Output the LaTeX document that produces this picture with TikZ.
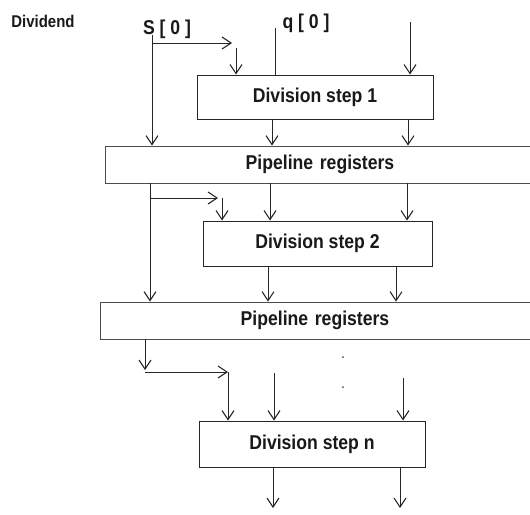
\documentclass[tikz,border=0pt]{standalone}
\usepackage{fontspec}
\setmainfont[FakeStretch=0.88]{Liberation Sans}
\usetikzlibrary{arrows.meta}
\begin{document}
\begin{tikzpicture}[x=1pt,y=-1pt,
  ln/.style={line width=1pt,draw=black!85},
  arr/.style={ln,-{Straight Barb[length=9pt,width=12pt,line width=1.1pt]}},
  stepbox/.style={draw=black!85,line width=1pt,fill=white,inner sep=0pt,
    font=\fontsize{20}{22}\selectfont\bfseries,text=black!90},
  regbox/.style={draw=black!70,line width=0.8pt,fill=white,inner sep=0pt,
    font=\fontsize{20}{22}\selectfont\bfseries,text=black!90},
  lbl/.style={inner sep=0pt,text=black!90}]
\useasboundingbox (0,0) rectangle (530,514);
\clip (0,0) rectangle (530,514);
\fill[white] (0,0) rectangle (530,514);
% labels
\node[lbl,font=\fontsize{17}{19}\selectfont\bfseries] (dvd) at (43,21) {Dividend};
\node[lbl,font=\fontsize{20}{22}\selectfont\bfseries] (s0) at (167,29) {S [ 0 ]};
\node[lbl,font=\fontsize{20}{22}\selectfont\bfseries] (q0) at (306,23) {q [ 0 ]};
% boxes
\node[stepbox,minimum width=236pt,minimum height=44pt] (ds1) at (315,97) {Division step 1};
\node[regbox,minimum width=470pt,minimum height=37pt,text width=430pt,align=center] (ps1) at (340,164.5) {\hspace*{-40pt}Pipeline registers};
\node[stepbox,minimum width=229pt,minimum height=45pt] (ds2) at (317.5,243.5) {Division step 2};
\node[regbox,minimum width=470pt,minimum height=37pt,text width=430pt,align=center] (ps2) at (335,320.5) {\hspace*{-40pt}Pipeline registers};
\node[stepbox,minimum width=226pt,minimum height=46pt] (dsn) at (312,444) {Division step n};
% free ends
\coordinate (sa) at (152,35);
\coordinate (sb) at (152,43);
\coordinate (sbe) at (232,43);
\coordinate (sc) at (236,48);
\coordinate (qa) at (275,28);
\coordinate (ra) at (410,22);
\coordinate (tb) at (150,198);
\coordinate (tbe) at (218,198);
\coordinate (tc) at (222,198);
\coordinate (ua) at (145,370);
\coordinate (ub) at (145,372);
\coordinate (ube) at (228,372);
\coordinate (uc) at (274,373);
\coordinate (ud) at (403,378);
\coordinate (oa) at (273,508);
\coordinate (ob) at (400,508);
% stage 1 inputs
\draw[arr] (sa) -- (ps1.north -| sa);
\draw[arr] (sb) -- (sbe);
\draw[arr] (sc) -- (ds1.north -| sc);
\draw[ln] (qa) -- (ds1.north -| qa);
\draw[arr] (ra) -- (ds1.north -| ra);
% stage 1 outputs
\draw[arr] (ds1.south -| 272,0) -- (ps1.north -| 272,0);
\draw[arr] (ds1.south -| 408,0) -- (ps1.north -| 408,0);
% stage 2 inputs
\draw[arr] (ps1.south -| tb) -- (ps2.north -| tb);
\draw[arr] (tb) -- (tbe);
\draw[arr] (tc) -- (ds2.north -| tc);
\draw[arr] (ps1.south -| 270,0) -- (ds2.north -| 270,0);
\draw[arr] (ps1.south -| 407,0) -- (ds2.north -| 407,0);
% stage 2 outputs
\draw[arr] (ds2.south -| 268,0) -- (ps2.north -| 268,0);
\draw[arr] (ds2.south -| 396,0) -- (ps2.north -| 396,0);
% stage n
\draw[arr] (ps2.south -| ua) -- (ua);
\draw[arr] (ub) -- (ube);
\draw[arr] (ube) -- (dsn.north -| ube);
\draw[arr] (uc) -- (dsn.north -| uc);
\draw[arr] (ud) -- (dsn.north -| ud);
\fill[black!70] (343,357) circle (1pt);
\fill[black!70] (343,387) circle (1pt);
\draw[arr] (dsn.south -| oa) -- (oa);
\draw[arr] (dsn.south -| ob) -- (ob);
\end{tikzpicture}
\end{document}
